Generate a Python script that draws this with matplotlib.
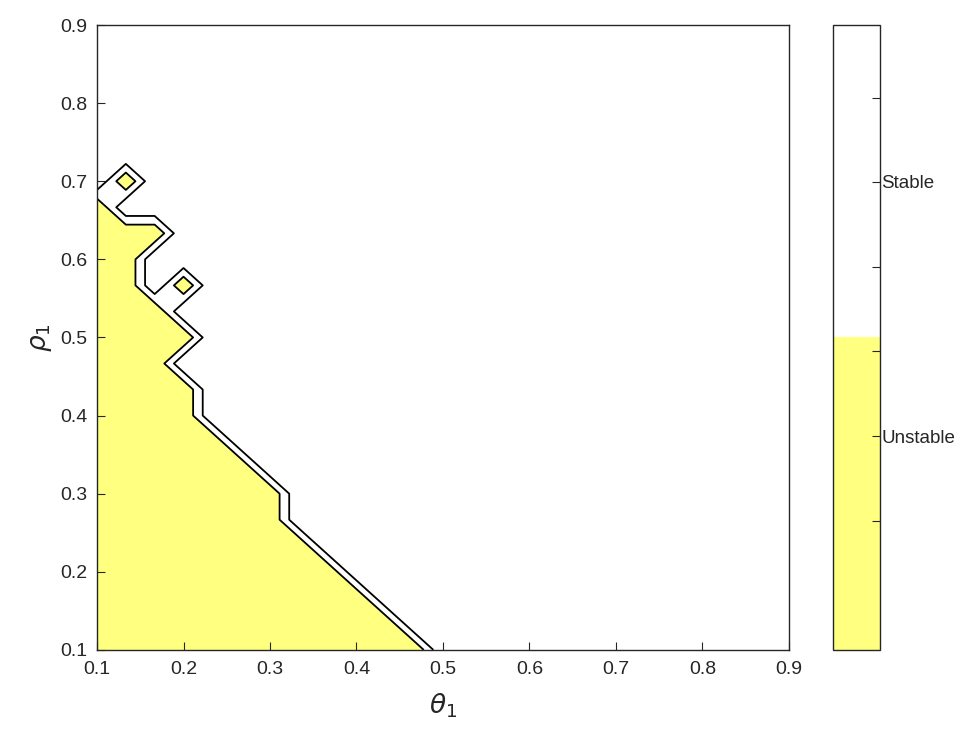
import numpy as np
import matplotlib.pyplot as plt
from matplotlib.colors import ListedColormap, Normalize
from matplotlib.cm import ScalarMappable

plt.rcParams['font.family'] = ['Liberation Sans', 'DejaVu Sans']

# grid of the parameter sweep (25 x 25 points)
theta1 = np.linspace(0.1, 0.9, 25)
rho1 = np.linspace(0.1, 0.9, 25)

# for each rho1 row: index of the last unstable theta1 column (rows above are stable)
last_unstable = [11, 10, 9, 8, 7, 6, 6, 5, 4, 3, 3, 2, 3, 2, 1, 1, 2, 0]
# isolated unstable points (theta index, rho index)
isolated = [(1, 18), (3, 14)]

# colorbar ticks (fraction of the bar height) and their labels
cbar_ticks = [0.207, 0.342, 0.478, 0.613, 0.749, 0.884]
cbar_labels = ['', 'Unstable', '', '', 'Stable', '']

yellow = '#ffff80'
txt = '#262626'

Z = np.ones((len(rho1), len(theta1)))
for j, t in enumerate(last_unstable):
    Z[j, :t + 1] = 0
for i, j in isolated:
    Z[j, i] = 0

fig = plt.figure(figsize=(9.8, 7.36), dpi=100)
ax = fig.add_axes([0.099, 0.117, 0.706, 0.849])
cax = fig.add_axes([0.850, 0.117, 0.048, 0.849])

levels = [0, 1/3, 2/3, 1]
ax.contourf(theta1, rho1, Z, levels=levels, colors=[yellow, 'white', 'white'])
ax.contour(theta1, rho1, Z, levels=levels[1:3], colors='k', linewidths=1.3)

ax.set_xlim(0.1, 0.9)
ax.set_ylim(0.1, 0.9)
ax.set_xticks(np.arange(0.1, 0.91, 0.1))
ax.set_yticks(np.arange(0.1, 0.91, 0.1))
ax.xaxis.set_major_formatter(plt.FormatStrFormatter('%.1f'))
ax.yaxis.set_major_formatter(plt.FormatStrFormatter('%.1f'))
ax.tick_params(direction='in', length=6, labelsize=14, color=txt, labelcolor=txt)
ax.tick_params(axis='x', pad=8)
ax.tick_params(axis='y', pad=7)
ax.set_xlabel(r'$\theta_1$', fontsize=19, color=txt, labelpad=10)
ax.set_ylabel(r'$\rho_1$', fontsize=19, color=txt, labelpad=4)
for s in ax.spines.values():
    s.set_linewidth(1.0)
    s.set_color(txt)

sm = ScalarMappable(norm=Normalize(0, 1), cmap=ListedColormap([yellow, 'white']))
cb = fig.colorbar(sm, cax=cax)
cb.set_ticks(cbar_ticks, labels=cbar_labels)
cax.tick_params(direction='in', length=6, labelsize=13.5, pad=1, color=txt, labelcolor=txt)
cb.outline.set_linewidth(1.0)
cb.outline.set_edgecolor(txt)

fig.savefig('out.png', dpi=100)
